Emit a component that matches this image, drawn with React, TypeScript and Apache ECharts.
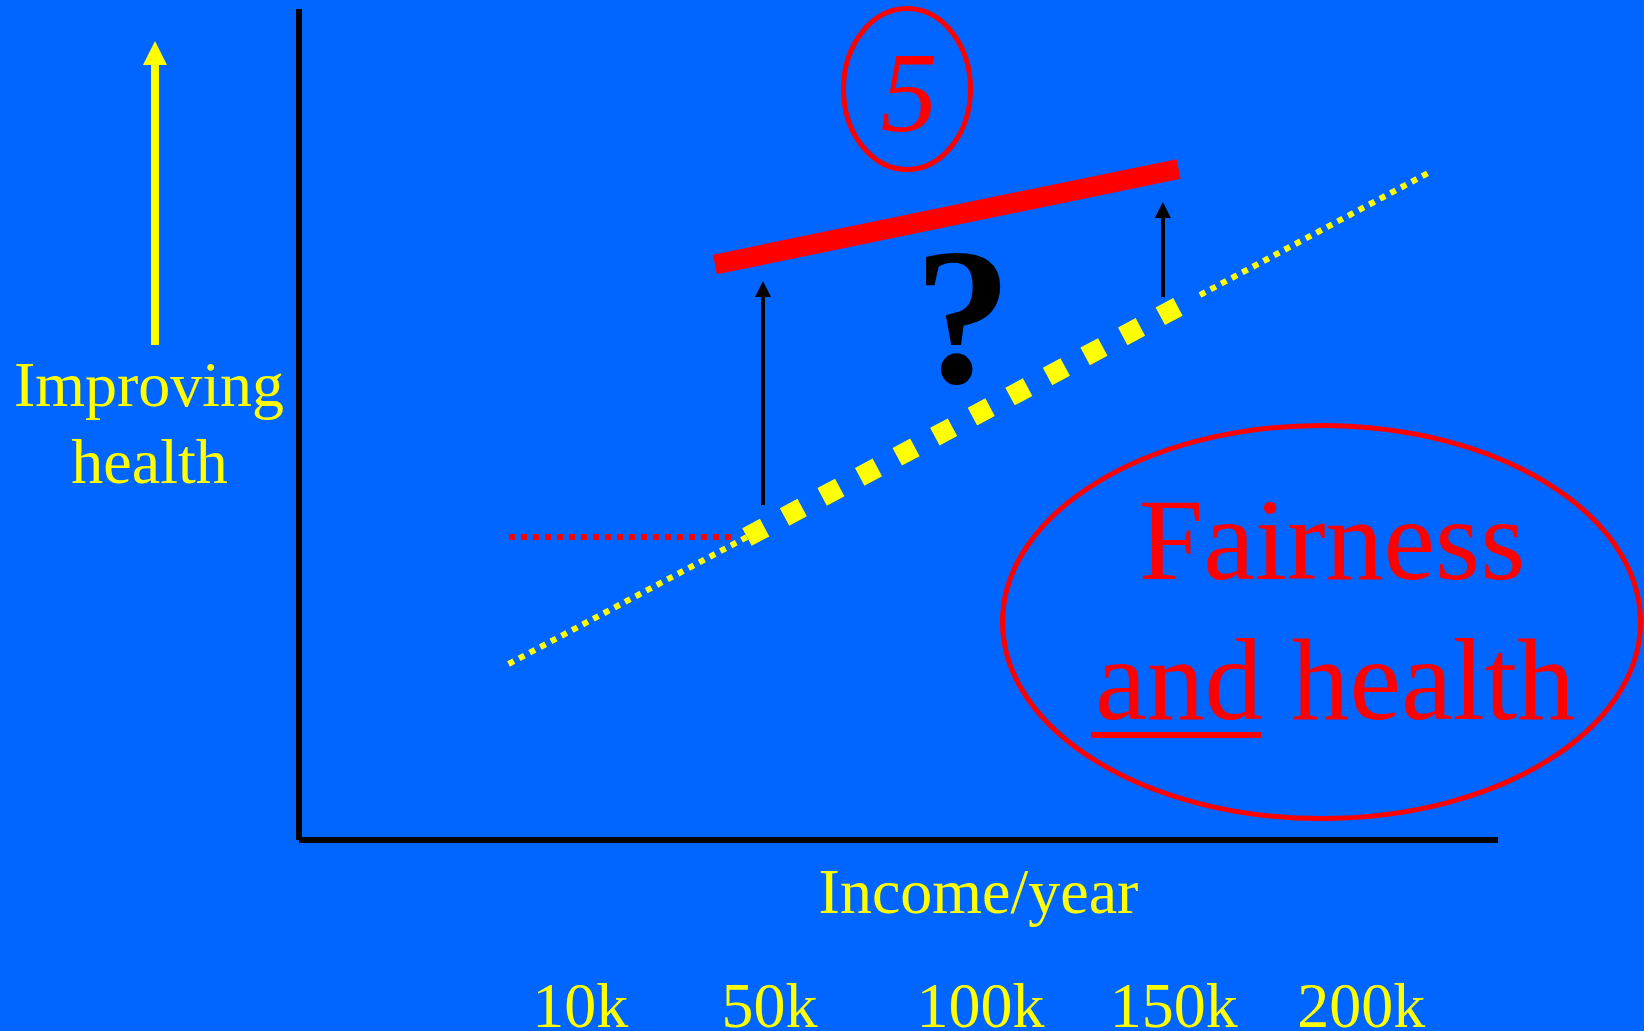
import React, { useEffect, useRef } from "react";
import * as echarts from "echarts";

// ---- data (x: income-axis position, y: health index 0..100) ----
const incomeLabels = ["10k", "50k", "100k", "150k", "200k"];
const incomeTickPositions = [1, 1.97, 3.05, 4.04, 5];

// social gradient in health (yellow line)
const gradientLowX = [0.633, 1.854];
const gradientLowY = [21.18, 36.46];
const gradientMidX = [1.854, 4.066];
const gradientMidY = [36.46, 64.22];
const gradientHighX = [4.174, 5.362];
const gradientHighY = [65.58, 80.51];

// red dotted floor
const floorX = [0.635, 1.782];
const floorY = [36.46, 36.46];

// red target line
const targetX = [1.69, 4.064];
const targetY = [69.25, 80.75];

// black uplift arrows
const upliftX = [1.936, 3.984];
const upliftFromY = [40.31, 65.34];
const upliftToY = [66.31, 75.81];

const SERIF = "'Liberation Serif', 'Times New Roman', Times, serif";
const BLUE = "#0066ff";
const YELLOW = "#ffff00";
const RED = "#ff0000";

const pairs = (xs: number[], ys: number[]) => xs.map((x, i) => [x, ys[i]]);

function txt(
  text: string,
  x: number,
  y: number,
  size: number,
  color: string,
  weight: string = "normal",
  fontStyle: string = "normal"
) {
  return {
    type: "text",
    x,
    y,
    silent: true,
    style: {
      text,
      fill: color,
      fontFamily: SERIF,
      fontSize: size,
      fontWeight: weight,
      fontStyle,
      align: "center",
      textAlign: "center",
      verticalAlign: "middle",
      textVerticalAlign: "middle",
    },
  };
}

export default function App() {
  const ref = useRef<HTMLDivElement>(null);
  useEffect(() => {
    if (!ref.current) return;
    const chart = echarts.init(ref.current, null, { renderer: "svg" });
    const option: any = {
      animation: false,
      backgroundColor: BLUE,
      grid: {
        left: 299,
        top: 9,
        width: 1199,
        height: 831,
        containLabel: false,
        outerBoundsMode: "none",
      },
      xAxis: {
        type: "value",
        min: -0.44,
        max: 5.7,
        axisLine: { show: true, onZero: false, lineStyle: { color: "#000", width: 6, cap: "butt" } },
        axisTick: { show: false },
        splitLine: { show: false },
        axisLabel: {
          show: true,
          customValues: incomeTickPositions,
          formatter: (v: number) => {
            const i = incomeTickPositions.findIndex((p) => Math.abs(p - v) < 1e-6);
            return i >= 0 ? incomeLabels[i] : "";
          },
          color: YELLOW,
          fontFamily: SERIF,
          fontSize: 64,
          margin: 133,
          hideOverlap: false,
        },
      },
      yAxis: {
        type: "value",
        min: 0,
        max: 100,
        axisLine: { show: true, onZero: false, lineStyle: { color: "#000", width: 6, cap: "butt" } },
        axisTick: { show: false },
        splitLine: { show: false },
        axisLabel: { show: false },
      },
      series: [
        {
          type: "line",
          data: pairs(gradientLowX, gradientLowY),
          symbol: "none",
          silent: true,
          z: 2,
          lineStyle: { color: YELLOW, width: 6, type: [6, 6], cap: "butt" },
        },
        {
          type: "line",
          data: pairs(gradientHighX, gradientHighY),
          symbol: "none",
          silent: true,
          z: 2,
          lineStyle: { color: YELLOW, width: 6, type: [6, 6], cap: "butt" },
        },
        {
          type: "line",
          data: pairs(floorX, floorY),
          symbol: "none",
          silent: true,
          z: 2,
          lineStyle: { color: RED, width: 6, type: [6, 6], cap: "butt" },
        },
        {
          type: "line",
          data: pairs(gradientMidX, gradientMidY),
          symbol: "none",
          silent: true,
          z: 3,
          lineStyle: { color: YELLOW, width: 20, type: [20, 22.6], cap: "butt" },
        },
        {
          type: "line",
          data: pairs(targetX, targetY),
          symbol: "none",
          silent: true,
          z: 3,
          lineStyle: { color: RED, width: 20, type: "solid", cap: "butt" },
        },
        {
          type: "lines",
          coordinateSystem: "cartesian2d",
          silent: true,
          z: 4,
          data: upliftX.map((x, i) => ({
            coords: [
              [x, upliftFromY[i]],
              [x, upliftToY[i]],
            ],
          })),
          symbol: ["none", "triangle"],
          symbolSize: 16,
          lineStyle: { color: "#000", width: 4, opacity: 1, curveness: 0 },
        },
      ],
      graphic: [
        // yellow "improving health" arrow
        {
          type: "line",
          silent: true,
          shape: { x1: 155, y1: 345, x2: 155, y2: 62 },
          style: { stroke: YELLOW, lineWidth: 8 },
        },
        {
          type: "polygon",
          silent: true,
          shape: { points: [[143, 65], [167, 65], [155, 41]] },
          style: { fill: YELLOW },
        },
        txt("Improving", 149, 384.4, 64, YELLOW),
        txt("health", 149.5, 461.4, 64, YELLOW),
        txt("Income/year", 978.5, 891.4, 64, YELLOW),
        // circled 5
        {
          type: "ellipse",
          silent: true,
          shape: { cx: 907, cy: 89, rx: 63.5, ry: 80.5 },
          style: { fill: "transparent", stroke: RED, lineWidth: 5 },
        },
        txt("5", 909, 92.5, 114, RED, "normal", "italic"),
        txt("?", 963, 316.2, 195, "#000", "bold"),
        // fairness ellipse
        {
          type: "ellipse",
          silent: true,
          shape: { cx: 1321.5, cy: 622, rx: 319, ry: 196.5 },
          style: { fill: "transparent", stroke: RED, lineWidth: 5 },
        },
        txt("Fairness", 1332, 539.9, 116, RED),
        txt("and health", 1335, 679.9, 116, RED),
        {
          type: "rect",
          silent: true,
          shape: { x: 1091, y: 732, width: 170, height: 6 },
          style: { fill: RED },
        },
      ],
    };
    chart.setOption(option);
    return () => chart.dispose();
  }, []);
  return (
    <div
      ref={ref}
      style={{ position: "absolute", left: 0, top: 0, width: 1644, height: 1031 }}
    />
  );
}
